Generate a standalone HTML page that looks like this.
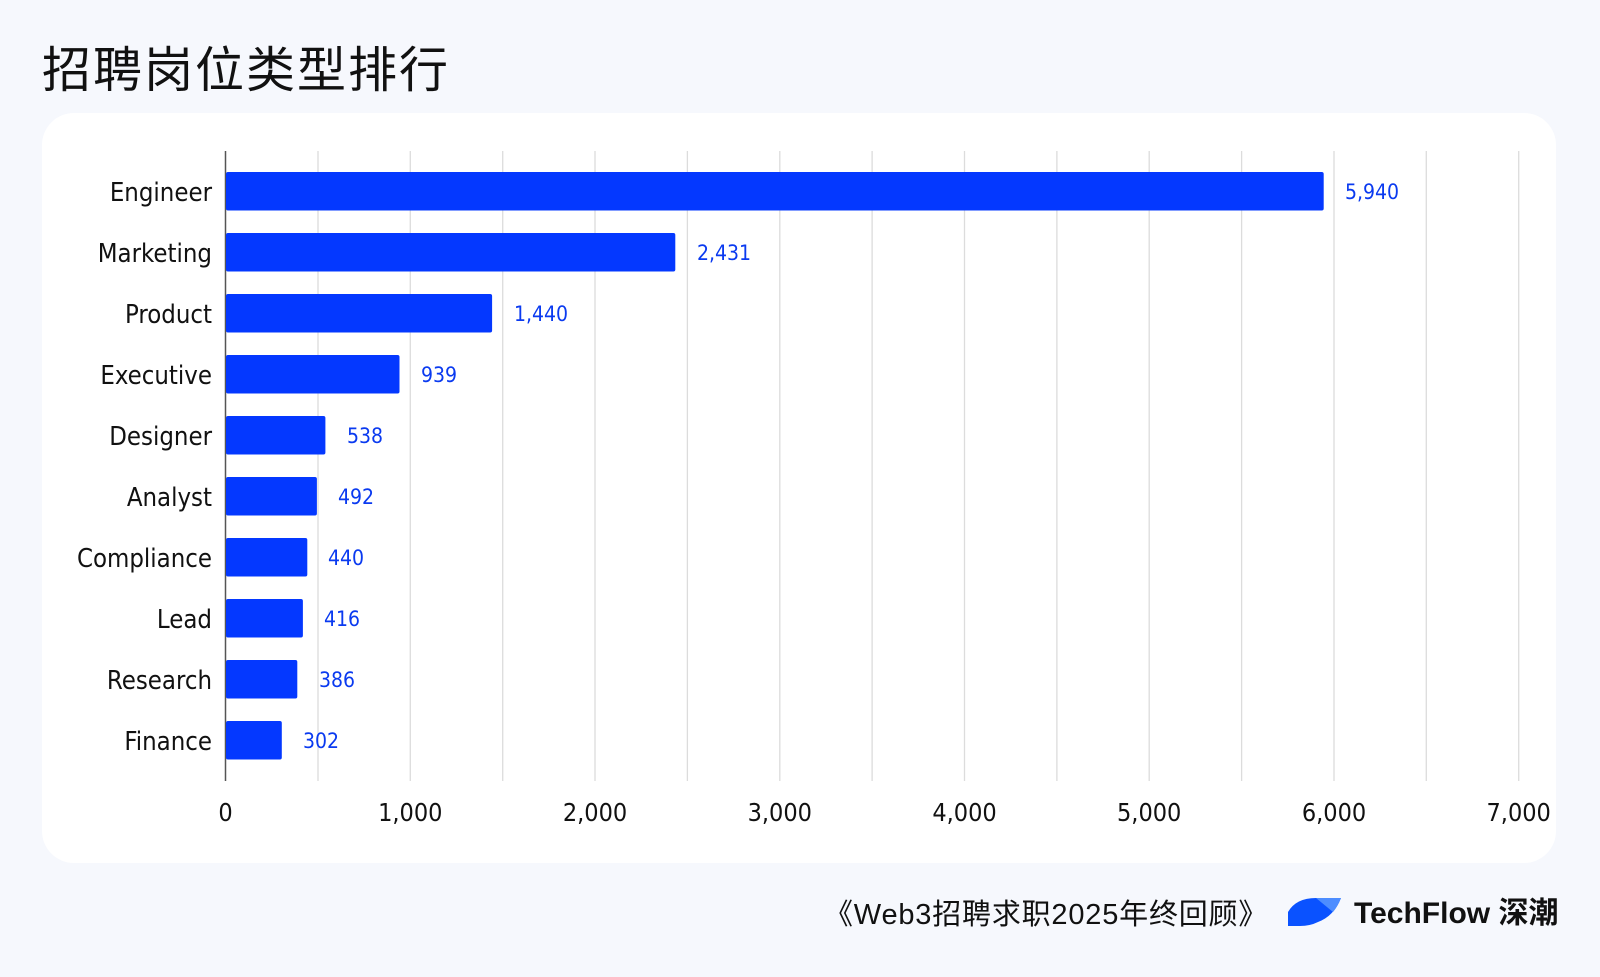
<!DOCTYPE html>
<html><head><meta charset="utf-8"><style>
body{margin:0;width:1600px;height:977px;background:#f6f8fd;overflow:hidden;font-family:"Liberation Sans","Noto Sans CJK SC",sans-serif}
</style></head><body>
<svg width="1600" height="977" xmlns="http://www.w3.org/2000/svg" style="position:absolute;left:0;top:0">
<text x="42" y="87" font-size="49" letter-spacing="2" fill="#111" font-family="Noto Sans CJK SC, sans-serif">招聘岗位类型排行</text>
<rect x="42" y="113" width="1514" height="750" rx="32" fill="#fff"/>
<g stroke="#dcdcdc" stroke-width="1.3">
<line x1="318" y1="151" x2="318" y2="781"/><line x1="410.3" y1="151" x2="410.3" y2="781"/>
<line x1="502.7" y1="151" x2="502.7" y2="781"/><line x1="595" y1="151" x2="595" y2="781"/>
<line x1="687.4" y1="151" x2="687.4" y2="781"/><line x1="779.8" y1="151" x2="779.8" y2="781"/>
<line x1="872.1" y1="151" x2="872.1" y2="781"/><line x1="964.5" y1="151" x2="964.5" y2="781"/>
<line x1="1056.9" y1="151" x2="1056.9" y2="781"/><line x1="1149.2" y1="151" x2="1149.2" y2="781"/>
<line x1="1241.6" y1="151" x2="1241.6" y2="781"/><line x1="1334" y1="151" x2="1334" y2="781"/>
<line x1="1426.3" y1="151" x2="1426.3" y2="781"/><line x1="1518.7" y1="151" x2="1518.7" y2="781"/>
</g>
<line x1="225.5" y1="151" x2="225.5" y2="781" stroke="#555" stroke-width="1.5"/>
<g fill="#0438ff">
<rect x="226" y="172" width="1097.7" height="38.5" rx="2"/>
<rect x="226" y="233" width="449.3" height="38.5" rx="2"/>
<rect x="226" y="294" width="266.1" height="38.5" rx="2"/>
<rect x="226" y="355" width="173.5" height="38.5" rx="2"/>
<rect x="226" y="416" width="99.4" height="38.5" rx="2"/>
<rect x="226" y="477" width="90.9" height="38.5" rx="2"/>
<rect x="226" y="538" width="81.3" height="38.5" rx="2"/>
<rect x="226" y="599" width="76.9" height="38.5" rx="2"/>
<rect x="226" y="660" width="71.3" height="38.5" rx="2"/>
<rect x="226" y="721" width="55.8" height="38.5" rx="2"/>
</g>
<g font-size="25.5" fill="#111" text-anchor="end" font-family="DejaVu Sans Condensed, DejaVu Sans, sans-serif">
<text x="212" y="201">Engineer</text><text x="212" y="262">Marketing</text><text x="212" y="323">Product</text>
<text x="212" y="384">Executive</text><text x="212" y="445">Designer</text><text x="212" y="506">Analyst</text>
<text x="212" y="567">Compliance</text><text x="212" y="628">Lead</text><text x="212" y="689">Research</text>
<text x="212" y="750">Finance</text>
</g>
<g font-size="21" fill="#0a3af0" font-family="DejaVu Sans Condensed, DejaVu Sans, sans-serif">
<text x="1345" y="199">5,940</text><text x="697" y="260">2,431</text><text x="514" y="321">1,440</text>
<text x="421" y="382">939</text><text x="347" y="443">538</text><text x="338" y="504">492</text>
<text x="328" y="565">440</text><text x="324" y="626">416</text><text x="319" y="687">386</text>
<text x="303" y="748">302</text>
</g>
<g font-size="25" fill="#111" text-anchor="middle" font-family="DejaVu Sans Condensed, DejaVu Sans, sans-serif">
<text x="225.5" y="821">0</text><text x="410.3" y="821">1,000</text><text x="595" y="821">2,000</text>
<text x="779.8" y="821">3,000</text><text x="964.5" y="821">4,000</text><text x="1149.2" y="821">5,000</text>
<text x="1334" y="821">6,000</text><text x="1518.7" y="821">7,000</text>
</g>
<text x="824" y="924" font-size="29" letter-spacing="0.8" fill="#111" font-family="Liberation Sans, Noto Sans CJK SC, sans-serif">《Web3招聘求职2025年终回顾》</text>
<path d="M1288 926 L1288 912 Q1296 898 1316 898 L1341 898 Q1334 916 1318 922 Q1310 926 1300 926 Z" fill="#0a52ff"/>
<path d="M1316 898 L1341 898 Q1338 906 1333 912 Z" fill="#4d8dff"/>
<text x="1354" y="923" font-size="30" font-weight="bold" fill="#111" font-family="Liberation Sans, Noto Sans CJK SC, sans-serif">TechFlow 深潮</text>
</svg>
</body></html>
